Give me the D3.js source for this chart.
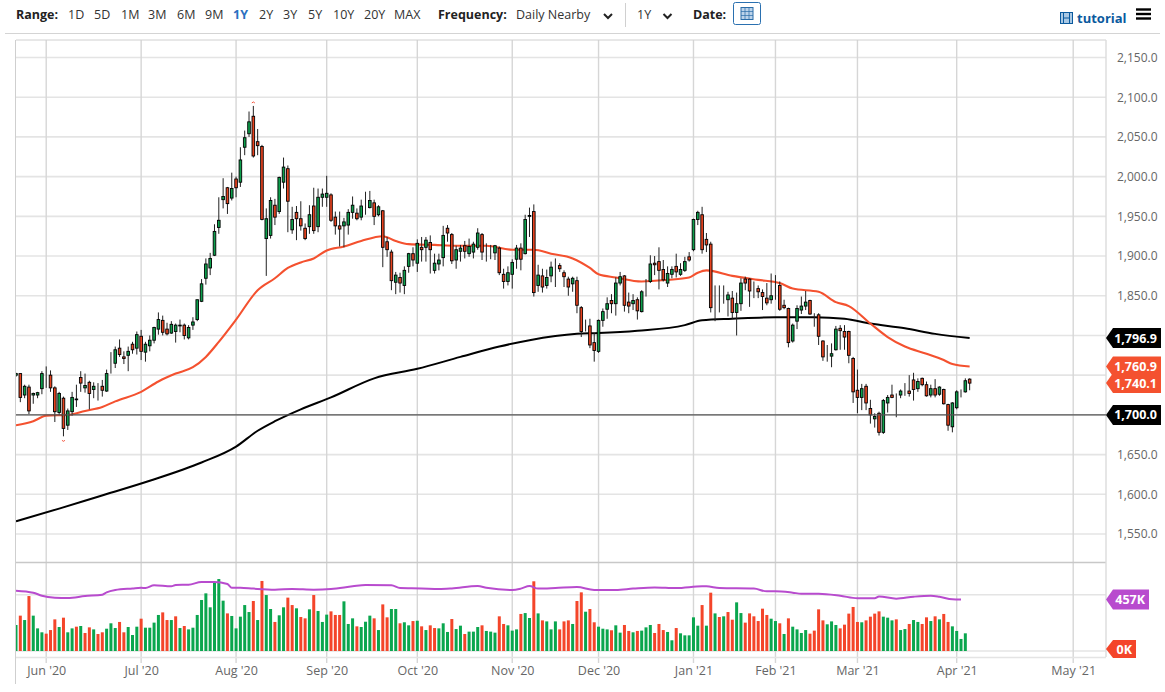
<!DOCTYPE html>
<html>
<head>
<meta charset="utf-8">
<title>Gold daily chart</title>
<script src="https://cdn.jsdelivr.net/npm/d3@7"></script>
<style>
  html, body { margin: 0; padding: 0; background: #fff; }
  svg { display: block; font-family: "Open Sans", sans-serif; }
  .domain { display: none; }
</style>
</head>
<body>
<svg id="chart" width="1165" height="692"></svg>
<script>
'use strict';

// daily candles (first candle is index 0)
const opens = [
  1750,1752,1725,1735,1725,1725,1733,1750,1750,1734,
  1703,1721,1687,1704,1719,1747,1734,1741,1732,1737,
  1736,1730,1766,1765,1784,1773,1775,1789,1784,1799,
  1779,1787,1794,1808,1819,1808,1803,1805,1812,1813,
  1797,1813,1820,1843,1872,1885,1901,1936,1971,1986,
  1973,1997,1993,2037,2054,2076,2044,2038,1922,1926,
  1964,1956,1993,2010,1933,1955,1947,1935,1937,1963,
  1937,1974,1974,1977,1949,1938,1938,1939,1955,1954,
  1949,1966,1961,1967,1952,1957,1918,1905,1867,1873,
  1863,1887,1903,1891,1911,1911,1917,1882,1890,1898,
  1935,1927,1895,1906,1913,1903,1905,1911,1927,1906,
  1906,1904,1910,1877,1868,1877,1896,1910,1903,1950,
  1956,1863,1875,1863,1875,1887,1888,1879,1871,1865,
  1869,1835,1812,1812,1791,1780,1819,1833,1844,1840,
  1866,1875,1842,1840,1845,1830,1859,1868,1891,1893,
  1883,1866,1877,1887,1877,1882,1899,1908,1946,1952,
  1921,1915,1850,1845,1855,1845,1847,1829,1840,1871,
  1871,1855,1859,1854,1847,1845,1864,1863,1838,1834,
  1793,1818,1832,1837,1844,1824,1826,1793,1776,1774,
  1782,1809,1805,1805,1771,1731,1722,1736,1708,1695,
  1702,1678,1715,1725,1721,1725,1731,1730,1744,1733,
  1746,1738,1725,1733,1726,1732,1713,1685,1709,1730,
  1729,1745
];
const closes = [
  1752,1722,1736,1705,1727,1728,1752,1750,1734,1704,
  1727,1683,1705,1722,1720,1740,1737,1727,1736,1737,
  1731,1752,1766,1782,1776,1771,1780,1782,1801,1780,
  1789,1794,1810,1820,1804,1802,1814,1813,1813,1800,
  1810,1817,1845,1865,1890,1897,1931,1945,1975,1966,
  1985,1986,2021,2049,2069,2026,2039,1946,1947,1970,
  1949,1999,2012,1969,1946,1947,1938,1922,1952,1932,
  1974,1978,1979,1945,1938,1934,1943,1955,1964,1947,
  1963,1966,1970,1950,1962,1911,1908,1869,1876,1866,
  1882,1903,1895,1916,1908,1920,1908,1891,1895,1926,
  1929,1894,1908,1910,1906,1912,1915,1929,1905,1906,
  1906,1913,1879,1868,1879,1892,1910,1896,1946,1951,
  1854,1876,1861,1873,1886,1887,1884,1874,1861,1872,
  1838,1805,1812,1788,1781,1819,1830,1840,1840,1866,
  1874,1838,1837,1844,1831,1855,1859,1890,1889,1882,
  1870,1878,1883,1880,1883,1893,1895,1946,1955,1908,
  1914,1835,1850,1845,1855,1851,1829,1840,1866,1866,
  1856,1855,1855,1849,1841,1850,1864,1833,1835,1791,
  1813,1834,1837,1842,1827,1824,1799,1773,1776,1777,
  1808,1806,1798,1775,1729,1722,1733,1715,1700,1698,
  1678,1718,1722,1722,1721,1730,1731,1727,1732,1742,
  1738,1724,1733,1725,1735,1714,1687,1715,1729,1730,
  1743,1740
];
const highs = [
  1753,1752,1738,1738,1728,1729,1755,1761,1756,1736,
  1729,1723,1708,1729,1738,1755,1752,1743,1741,1740,
  1744,1757,1779,1786,1795,1780,1786,1792,1805,1807,
  1792,1800,1811,1829,1825,1816,1818,1815,1820,1815,
  1813,1823,1845,1871,1897,1904,1940,1974,1998,1987,
  2005,2000,2037,2058,2082,2089,2060,2040,1960,1974,
  1972,2000,2024,2014,1962,1963,1969,1941,1964,1986,
  1985,1985,2001,1979,1956,1956,1948,1959,1975,1960,
  1971,1981,1982,1971,1964,1958,1924,1908,1880,1879,
  1887,1904,1911,1921,1924,1924,1926,1903,1903,1938,
  1939,1929,1913,1914,1919,1922,1918,1935,1929,1916,
  1914,1914,1912,1884,1887,1896,1914,1916,1952,1961,
  1965,1889,1884,1883,1893,1897,1891,1882,1874,1874,
  1874,1837,1820,1821,1803,1820,1834,1848,1852,1873,
  1880,1876,1854,1852,1848,1857,1871,1901,1900,1911,
  1895,1887,1887,1903,1891,1899,1905,1947,1957,1962,
  1929,1918,1863,1863,1863,1855,1856,1854,1872,1874,
  1872,1868,1863,1858,1866,1878,1876,1868,1845,1835,
  1815,1838,1849,1856,1845,1828,1828,1794,1788,1790,
  1812,1813,1813,1806,1773,1757,1739,1739,1719,1702,
  1704,1720,1725,1738,1727,1732,1740,1750,1753,1746,
  1747,1742,1738,1745,1736,1733,1714,1716,1731,1732,
  1746,1746
];
const lows = [
  1748,1716,1721,1701,1714,1721,1726,1734,1729,1691,
  1700,1673,1681,1699,1710,1729,1728,1707,1721,1718,
  1723,1729,1752,1759,1773,1764,1755,1777,1776,1769,
  1767,1780,1790,1801,1800,1800,1802,1791,1804,1795,
  1795,1807,1818,1842,1864,1876,1900,1928,1960,1953,
  1970,1974,1987,2027,2050,2024,2027,1945,1875,1922,
  1939,1953,1985,1930,1928,1920,1932,1920,1928,1928,
  1930,1962,1962,1943,1927,1912,1911,1927,1947,1945,
  1945,1952,1960,1939,1950,1886,1899,1857,1852,1854,
  1852,1879,1887,1880,1893,1893,1878,1878,1882,1887,
  1918,1890,1884,1893,1897,1899,1897,1908,1895,1893,
  1896,1895,1876,1859,1863,1859,1884,1882,1902,1924,
  1849,1855,1854,1859,1867,1861,1880,1861,1850,1855,
  1828,1798,1805,1784,1767,1778,1811,1821,1828,1825,
  1863,1830,1828,1832,1820,1829,1849,1866,1876,1858,
  1868,1861,1872,1873,1875,1880,1893,1906,1939,1903,
  1905,1829,1818,1829,1840,1824,1821,1800,1831,1857,
  1836,1847,1847,1832,1838,1840,1845,1831,1833,1785,
  1791,1808,1827,1832,1826,1811,1788,1768,1767,1760,
  1781,1782,1782,1765,1715,1702,1706,1706,1689,1684,
  1674,1676,1703,1721,1697,1721,1724,1723,1718,1729,
  1736,1723,1722,1722,1724,1713,1680,1678,1707,1722,
  1728,1731
];

// volume in thousands, one per candle (the last candle has no bar yet)
const volumes = [
  231,314,275,488,314,201,166,154,186,281,
  213,296,166,201,216,222,160,210,192,151,
  166,198,246,204,258,166,213,142,216,287,
  207,207,252,320,343,275,275,308,204,222,
  192,207,320,453,512,388,607,639,447,334,
  311,201,305,408,346,444,275,622,497,373,
  258,317,388,474,408,379,302,290,370,497,
  355,258,323,352,320,320,441,240,290,219,
  213,260,314,290,186,414,299,373,373,246,
  255,228,266,269,219,186,228,204,201,246,
  169,284,195,225,151,172,172,213,228,178,
  172,163,308,240,228,181,192,329,337,293,
  619,334,272,263,192,263,192,263,272,240,
  444,521,349,373,255,216,198,192,184,228,
  163,231,178,166,178,181,210,231,160,240,
  186,169,95,204,157,139,139,299,225,408,
  225,518,334,302,308,346,278,432,337,252,
  334,308,266,376,320,287,266,246,151,290,
  216,192,160,186,154,181,370,272,237,263,
  231,201,234,332,391,258,255,272,305,332,
  352,305,296,272,281,186,195,240,275,258,
  240,299,266,308,281,329,258,219,178,107,
  157
];
const volumeDirs = (
  'GRGRGGGRRR' + 'GRGGRGRRGR' + 'RGGGRRGGGR' + 'GGGGRRGRGR' +
  'GGGGGGGGGR' + 'GGGGGRGRGG' + 'RGGRRGRRGR' + 'GGGRRRGGGR' +
  'GGGRGRRGGR' + 'GGRGRGRRGG' + 'GRGGRGGGRG' + 'GGRRGGGRGG' +
  'RGRGGGRRRG' + 'RRGRRGGGRG' + 'GRRGRGGGRR' + 'RGGRGGGGGR' +
  'GRGRGRRGGR' + 'RRRRRGGRGR' + 'GGGGRRRRGG' + 'GRRRRRGRRR' +
  'RGGGRGGRGG' + 'RRGRGRRGGG' + 'G'
).split('');

// moving averages, read at the candle numbers listed beside them
const ma50Days = [0,4,7,12,16,20,23,29,33,37,41,44,47,51,56,60,63,66,69,72,76,80,85,88,91,97,102,109,115,120,124,129,133,135,139,145,151,156,158,160,166,172,177,180,186,190,193,198,202,206,211,215,217,221];
const ma50 = [1687,1692,1699,1700,1705,1710,1717,1729,1742,1752,1760,1773,1792,1820,1857,1872,1885,1892,1897,1907,1912,1919,1925,1919,1915,1914,1913,1913,1908,1908,1903,1897,1885,1877,1873,1868,1870,1873,1879,1882,1875,1870,1866,1859,1855,1842,1837,1815,1798,1786,1777,1769,1764,1760.9];
const ma200Days = [0,10,19,31,43,51,56,60,66,73,83,93,103,112,119,130,135,144,155,159,166,176,185,192,198,206,213,221];
const ma200 = [1566,1582,1597,1617,1640,1660,1680,1692,1707,1722,1746,1758,1773,1786,1794,1802,1803,1806,1813,1819,1821,1823,1823,1821,1815,1809,1802,1796.9];
const volAvgDays = [0,4,6,9,12,16,20,21,23,27,29,30,32,36,37,40,43,46,49,50,52,55,60,64,69,73,78,81,87,89,94,98,101,107,109,115,117,119,121,125,130,134,139,143,148,153,159,160,163,171,174,176,180,182,186,191,195,199,200,204,208,212,214,217,219];
const volAvg = [536,518,491,474,471,488,500,521,542,556,562,559,583,574,586,589,613,613,595,562,562,554,545,551,545,551,574,586,583,559,556,551,556,577,562,542,554,577,554,559,568,542,542,554,565,559,574,574,559,554,530,530,518,509,509,491,468,468,485,465,482,491,482,459,457];

// axes
const priceTicks = [1550,1600,1650,1700,1750,1800,1850,1900,1950,2000,2050,2100,2150];
// 1,700 1,750 and 1,800 sit behind the value tags, so they get no label
const priceLabels = [1550,1600,1650,1850,1900,1950,2000,2050,2100,2150];
const volumeTicks = [0,500];
const monthDays = [7,29,51,72,93,115,135,157,176,195,218,245];
const monthLabels = ["Jun '20","Jul '20","Aug '20","Sep '20","Oct '20","Nov '20","Dec '20","Jan '21","Feb '21","Mar '21","Apr '21","May '21"];
const rangeLabels = ['1D','5D','1M','3M','6M','9M','1Y','2Y','3Y','5Y','10Y','20Y','MAX'];
const rangeLefts = [68,94,121,148,177,205,233,259,283,308,333,364,394];

const GREEN = '#0aa64e', RED = '#f4452a', GRID = '#e4e4e4', VLINE = '#d6d6d6', PURPLE = '#b84bce';
const plotLeft = 16, plotRight = 1106, plotTop = 40, priceBottom = 562, volBottom = 657;

const svg = d3.select('#chart');

const x = d3.scaleLinear().domain([0, 252.6]).range([plotLeft, plotRight]);
const y = d3.scaleLinear().domain([2150, 1550]).range([57.5, 534]);
const yVol = d3.scaleLinear().domain([0, 500]).range([651, 594.7]);

svg.append('defs').append('clipPath').attr('id', 'plot')
  .append('rect').attr('x', plotLeft).attr('y', plotTop).attr('width', plotRight - plotLeft).attr('height', volBottom - plotTop);

// ---------- grid ----------
const grid = svg.append('g');
grid.selectAll('.hp').data(priceTicks).join('line').attr('class', 'hp')
  .attr('x1', plotLeft).attr('x2', plotRight).attr('y1', d => y(d)).attr('y2', d => y(d))
  .attr('stroke', GRID).attr('stroke-width', 1.6);
grid.selectAll('.hv').data(volumeTicks).join('line').attr('class', 'hv')
  .attr('x1', plotLeft).attr('x2', plotRight).attr('y1', d => yVol(d)).attr('y2', d => yVol(d))
  .attr('stroke', GRID).attr('stroke-width', 1.6);
grid.selectAll('.vl').data(monthDays).join('line').attr('class', 'vl')
  .attr('x1', d => x(d)).attr('x2', d => x(d)).attr('y1', plotTop).attr('y2', 663)
  .attr('stroke', VLINE).attr('stroke-width', 1.4);

// frame
svg.append('line').attr('x1', 5).attr('x2', 1160).attr('y1', 33.5).attr('y2', 33.5).attr('stroke', '#d4d4d4');
svg.append('line').attr('x1', plotLeft).attr('x2', plotRight).attr('y1', 40).attr('y2', 40).attr('stroke', '#d0d0d0');
svg.append('line').attr('x1', plotLeft).attr('x2', plotRight).attr('y1', priceBottom + 0.5).attr('y2', priceBottom + 0.5).attr('stroke', '#c8c8c8').attr('stroke-width', 1.6);
svg.append('line').attr('x1', plotLeft).attr('x2', plotRight).attr('y1', volBottom + 0.5).attr('y2', volBottom + 0.5).attr('stroke', GRID).attr('stroke-width', 1.6);
svg.append('line').attr('x1', 15.5).attr('x2', 15.5).attr('y1', plotTop).attr('y2', 684).attr('stroke', '#cfcfcf');
svg.append('line').attr('x1', plotRight).attr('x2', plotRight).attr('y1', plotTop).attr('y2', volBottom).attr('stroke', '#dcdcdc').attr('stroke-width', 1.4);

// ---------- axes ----------
const yAxis = d3.axisRight(y).tickValues(priceLabels).tickSize(0).tickPadding(11).tickFormat(d3.format(',.1f'));
svg.append('g').attr('transform', `translate(${plotRight},0)`).call(yAxis)
  .call(g => g.selectAll('text').attr('fill', '#666').style('font-size', '12px').style('font-family', '"Open Sans", sans-serif'));

const xAxis = d3.axisBottom(x).tickValues(monthDays).tickSize(0).tickPadding(9).tickFormat((d, i) => monthLabels[i]);
svg.append('g').attr('transform', `translate(0,${volBottom})`).call(xAxis)
  .call(g => g.selectAll('text').attr('fill', '#666').style('font-size', '12.5px').style('font-family', '"Open Sans", sans-serif'));

// ---------- volume ----------
const plot = svg.append('g').attr('clip-path', 'url(#plot)');
plot.selectAll('.vol').data(volumes).join('rect').attr('class', 'vol')
  .attr('x', (d, i) => x(i) - 1.5).attr('width', 3)
  .attr('y', d => yVol(d)).attr('height', d => yVol(0) - yVol(d))
  .attr('fill', (d, i) => volumeDirs[i] === 'G' ? GREEN : RED);

const lineFor = (days, scale) => d3.line().x((d, i) => x(days[i])).y(d => scale(d)).curve(d3.curveMonotoneX);

plot.append('path').datum(volAvg).attr('d', lineFor(volAvgDays, yVol))
  .attr('fill', 'none').attr('stroke', PURPLE).attr('stroke-width', 2);

// ---------- moving averages ----------
plot.append('path').datum(ma200).attr('d', lineFor(ma200Days, y))
  .attr('fill', 'none').attr('stroke', '#000').attr('stroke-width', 2);
plot.append('path').datum(ma50).attr('d', lineFor(ma50Days, y))
  .attr('fill', 'none').attr('stroke', '#f4512f').attr('stroke-width', 2.1);

// the 1,700 level line
svg.append('line').attr('x1', plotLeft).attr('x2', plotRight).attr('y1', y(1700)).attr('y2', y(1700))
  .attr('stroke', '#555').attr('stroke-width', 1.1);

// ---------- candles ----------
const candles = plot.selectAll('.candle').data(opens).join('g').attr('class', 'candle');
candles.append('line')
  .attr('x1', (d, i) => x(i)).attr('x2', (d, i) => x(i))
  .attr('y1', (d, i) => y(highs[i])).attr('y2', (d, i) => y(lows[i]))
  .attr('stroke', '#222').attr('stroke-width', 1);
candles.append('rect')
  .attr('x', (d, i) => x(i) - 1.3).attr('width', 2.6)
  .attr('y', (d, i) => y(Math.max(d, closes[i])))
  .attr('height', (d, i) => Math.abs(y(d) - y(closes[i])))
  .attr('fill', (d, i) => closes[i] >= d ? '#0d9f4c' : '#e8431f')
  .attr('stroke', '#000').attr('stroke-width', 0.9);

// little red marks on the year's high and low
const caret = (dayIdx, py, flip) => svg.append('path')
  .attr('transform', `translate(${x(dayIdx)},${py}) scale(1,${flip})`)
  .attr('d', 'M-1.5,1L0,0L1.5,1').attr('fill', 'none').attr('stroke', RED).attr('stroke-width', 0.9);
caret(55, y(highs[55]) - 4, 1);
caret(11, y(lows[11]) + 5, -1);

// ---------- value tags ----------
function tag(cy, w, h, fill, text, fs) {
  const t = svg.append('g').attr('transform', `translate(${plotRight},${cy})`);
  t.append('path').attr('fill', fill)
    .attr('d', `M0,0L7,${-h / 2}L${w},${-h / 2}L${w},${h / 2}L7,${h / 2}Z`);
  t.append('text').text(text).attr('x', w - 4).attr('y', 4.6).attr('text-anchor', 'end')
    .attr('fill', '#fff').attr('font-weight', 700).attr('font-size', fs);
}
tag(y(1796.9), 55, 20, '#000', '1,796.9', 12.5);
tag(y(1760.9), 55, 20, '#f4512f', '1,760.9', 12.5);
tag(y(1740.1), 55, 20, '#f4512f', '1,740.1', 12.5);
tag(y(1700), 55, 20, '#000', '1,700.0', 12.5);
tag(yVol(457), 43, 20, PURPLE, '457K', 12.5);
tag(yVol(0) - 2, 30, 18, RED, '0K', 12.5);

// ---------- header ----------
const head = svg.append('g').attr('font-size', 12.5).attr('fill', '#333');
const label = (px, str, bold, fill) => head.append('text').text(str).attr('x', px).attr('y', 19)
  .attr('font-weight', bold ? 700 : 400).attr('fill', fill || (bold ? '#222' : '#333'));

label(16, 'Range:', true);
rangeLabels.forEach((r, i) => label(rangeLefts[i], r, r === '1Y', r === '1Y' ? '#2a70c0' : null));
label(438, 'Frequency:', true);
label(516, 'Daily Nearby');
label(637, '1Y');
label(693, 'Date:', true);

const chevron = px => head.append('path').attr('d', `M${px - 4},14L${px},18L${px + 4},14`)
  .attr('fill', 'none').attr('stroke', '#222').attr('stroke-width', 2);
chevron(608);
chevron(667.5);
head.append('line').attr('x1', 625.5).attr('x2', 625.5).attr('y1', 3).attr('y2', 27).attr('stroke', '#d0d0d0');

// calendar button
head.append('rect').attr('x', 733.5).attr('y', 2.5).attr('width', 27).attr('height', 22).attr('rx', 2)
  .attr('fill', '#fff').attr('stroke', '#2a70b0');
head.append('rect').attr('x', 741).attr('y', 7.5).attr('width', 12).attr('height', 12)
  .attr('fill', '#bcd3ea').attr('stroke', '#2a6ca8');
[745, 749].forEach(px => head.append('line').attr('x1', px).attr('x2', px).attr('y1', 8).attr('y2', 19).attr('stroke', '#2a6ca8').attr('stroke-width', 0.7));
[11.5, 15.5].forEach(py => head.append('line').attr('x1', 741).attr('x2', 753).attr('y1', py).attr('y2', py).attr('stroke', '#2a6ca8').attr('stroke-width', 0.7));

// tutorial link and menu
head.append('rect').attr('x', 1060.5).attr('y', 12.5).attr('width', 12).attr('height', 11)
  .attr('fill', '#a9c8e4').attr('stroke', '#0b5a9e');
[1063.5, 1069.5].forEach(px => head.append('line').attr('x1', px).attr('x2', px).attr('y1', 12).attr('y2', 24).attr('stroke', '#0b5a9e'));
head.append('line').attr('x1', 1063).attr('x2', 1070).attr('y1', 18).attr('y2', 18).attr('stroke', '#0b5a9e');
head.append('text').text('tutorial').attr('x', 1077).attr('y', 23).attr('font-weight', 700).attr('font-size', 13).attr('fill', '#0b5a9e');
[9.5, 14, 18.5].forEach(py => head.append('rect').attr('x', 1136).attr('y', py - 1.2).attr('width', 15).attr('height', 2.4).attr('fill', '#000'));
</script>
</body>
</html>
